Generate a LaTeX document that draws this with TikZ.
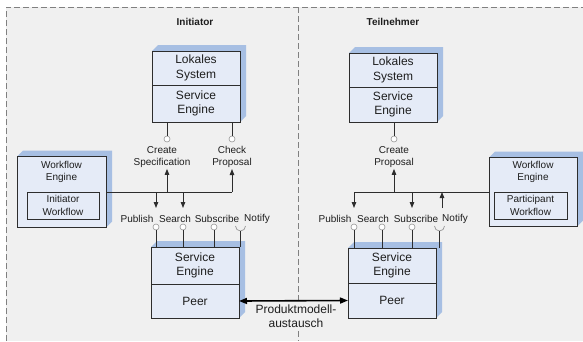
\documentclass[tikz,border=0pt]{standalone}
\usepackage{fontspec}
\setmainfont{Liberation Sans}
\usepackage{tikz}
\usetikzlibrary{arrows.meta,calc,backgrounds}
\usepackage{xcolor}
\definecolor{panelgrey}{RGB}{240,240,240}
\definecolor{frontblue}{RGB}{229,235,247}
\definecolor{sideblue}{RGB}{167,191,227}
\definecolor{edgegrey}{RGB}{45,45,45}
\definecolor{inkgrey}{RGB}{30,30,30}
\definecolor{dashgrey}{RGB}{128,128,128}
\definecolor{stubgrey}{RGB}{150,150,150}
% side and top face of a 3D box, behind the node
\newcommand{\boxdepth}[1]{%
  \begin{pgfonlayer}{background}
    \fill[sideblue] (#1.north west) -- ++(6,-6) -- ($(#1.north east)+(6,-6)$)
      -- ($(#1.south east)+(6,-6)$) -- (#1.south east) -- (#1.north east) -- cycle;
  \end{pgfonlayer}}

\begin{document}
\begin{tikzpicture}[x=1pt,y=-1pt,
    font=\fontsize{10}{12.3}\selectfont, text=inkgrey,
    comp/.style={draw=edgegrey,fill=frontblue,line width=0.9pt,outer sep=0pt,
      inner sep=0pt,minimum width=88pt,align=center,
      font=\fontsize{12}{14.5}\selectfont},
    wfbox/.style={draw=edgegrey,fill=frontblue,line width=0.9pt,inner sep=0pt,
      align=center,minimum height=27pt},
    lbl/.style={align=center,inner sep=1pt},
    head/.style={font=\bfseries\fontsize{10}{12}\selectfont},
    port/.style={circle,draw=stubgrey,fill=white,inner sep=0pt,minimum size=6pt,
      line width=0.6pt},
    sock/.style={stubgrey,line width=0.7pt},
    wire/.style={draw=edgegrey,line width=0.9pt},
    arr/.style={wire,-{Triangle[length=6pt,width=4.5pt]}},
    xarr/.style={draw=black,line width=1.6pt,
      {Triangle[length=8pt,width=6pt]}-{Triangle[length=8pt,width=6pt]}},
    frame/.style={dashgrey,line width=0.9pt,dash pattern=on 6pt off 3pt}]

  \useasboundingbox (0,0) rectangle (583,341);
  \begin{pgfonlayer}{background}
    \fill[panelgrey] (6,7) rectangle (583,341);
  \end{pgfonlayer}
  \draw[frame] (6,341) -- (6,7) -- (583,7);
  \draw[frame] (298,7) -- (298,341);

  % Initiator side
  \node[head] (hI) at (195,22) {Initiator};
  \node[comp,minimum height=34pt] (lsI) at (196,68) {Lokales\\System};
  \node[comp,minimum height=37pt,anchor=north] (seI) at (lsI.south) {Service\\Engine};
  \node[port] (csI) at (167,139) {};
  \node[port] (cpI) at (232,139) {};
  \foreach \p in {csI,cpI}
    \draw[wire] (\p) -- (\p |- seI.south);
  \node[lbl] (csIl) at (162,157) {Create\\Specification};
  \node[lbl] (cpIl) at (232,157) {Check\\Proposal};

  \node[comp,minimum width=89pt,minimum height=71pt] (wfI) at (61.5,192) {};
  \node[lbl] (wfIt) at (61.5,172) {Workflow\\Engine};
  \node[wfbox,minimum width=72pt] (iwI) at (63,205.5) {Initiator\\Workflow};

  \node[comp,minimum height=37pt] (engI) at (195,265.5) {Service\\Engine};
  \node[comp,minimum height=34pt,anchor=north] (peerI) at (engI.south) {Peer};

  \node[lbl] (pubIl) at (137,219) {Publish};
  \node[lbl] (seaIl) at (175,219) {Search};
  \node[lbl] (subIl) at (217,219) {Subscribe};
  \node[lbl] (notIl) at (257,219) {Notify};
  \node[port] (pubI) at (156,227) {};
  \node[port] (seaI) at (183,227) {};
  \node[port] (subI) at (214,227) {};
  \coordinate (notI) at (240.5,226);
  \foreach \p in {pubI,seaI,subI}
    \draw[wire] (\p) -- (\p |- engI.north);
  \draw[sock] ($(notI)+(5,0)$) arc[start angle=0,end angle=180,radius=5];
  \draw[wire] ($(notI)+(0,5)$) -- (notI |- engI.north);

  % bus to the workflow engine
  \draw[wire] (wfI.east) -- (cpI |- wfI.east);
  \foreach \p/\l in {csI/csIl,cpI/cpIl}
    \draw[arr] (\p |- wfI.east) -- (\p |- \l.south);
  \foreach \p in {pubI,seaI}
    \draw[arr] (\p |- wfI.east) -- ++(0,16);

  % Teilnehmer side
  \node[head] (hT) at (393,22) {Teilnehmer};
  \node[comp,minimum height=34pt] (lsT) at (393,70) {Lokales\\System};
  \node[comp,minimum height=35pt,anchor=north] (seT) at (lsT.south) {Service\\Engine};
  \node[port] (cpT) at (394,139) {};
  \draw[wire] (cpT) -- (cpT |- seT.south);
  \node[lbl] (cpTl) at (394,157) {Create\\Proposal};

  \node[comp,minimum width=88pt,minimum height=69pt] (wfT) at (533,192) {};
  \node[lbl] (wfTt) at (533,172) {Workflow\\Engine};
  \node[wfbox,minimum width=73pt] (pwT) at (530.5,205.5) {Participant\\Workflow};

  \node[comp,minimum height=35pt] (engT) at (392,265.5) {Service\\Engine};
  \node[comp,minimum height=35pt,anchor=north] (peerT) at (engT.south) {Peer};

  \node[lbl] (pubTl) at (335,219) {Publish};
  \node[lbl] (seaTl) at (373,219) {Search};
  \node[lbl] (subTl) at (416,219) {Subscribe};
  \node[lbl] (notTl) at (455,219) {Notify};
  \node[port] (pubT) at (354,227) {};
  \node[port] (seaT) at (382,227) {};
  \node[port] (subT) at (412,227) {};
  \coordinate (notT) at (439.5,226);
  \foreach \p in {pubT,seaT,subT}
    \draw[wire] (\p) -- (\p |- engT.north);
  \draw[sock] ($(notT)+(5,0)$) arc[start angle=0,end angle=180,radius=5];
  \draw[wire] ($(notT)+(0,5)$) -- (notT |- engT.north);

  \draw[wire] (wfT.west) -- (pubT |- wfT.west);
  \draw[arr] (cpT |- wfT.west) -- (cpT |- cpTl.south);
  \foreach \p in {pubT,subT}
    \draw[arr] (\p |- wfT.west) -- ++(0,16);
  \draw[arr] ($(notT)+(2.5,-18)$) -- ($(notT |- wfT.west)+(2.5,0)$);

  % 3D faces
  \foreach \n in {lsI,seI,wfI,engI,peerI,lsT,seT,wfT,engT,peerT}
    {\boxdepth{\n}}

  % Produktmodell exchange
  \draw[xarr] (peerI.east) -- (peerT.west);
  \node[lbl,fill=panelgrey,font=\fontsize{12}{14.5}\selectfont] (pmx) at (296,316)
    {Produktmodell-\\austausch};
\end{tikzpicture}
\end{document}
